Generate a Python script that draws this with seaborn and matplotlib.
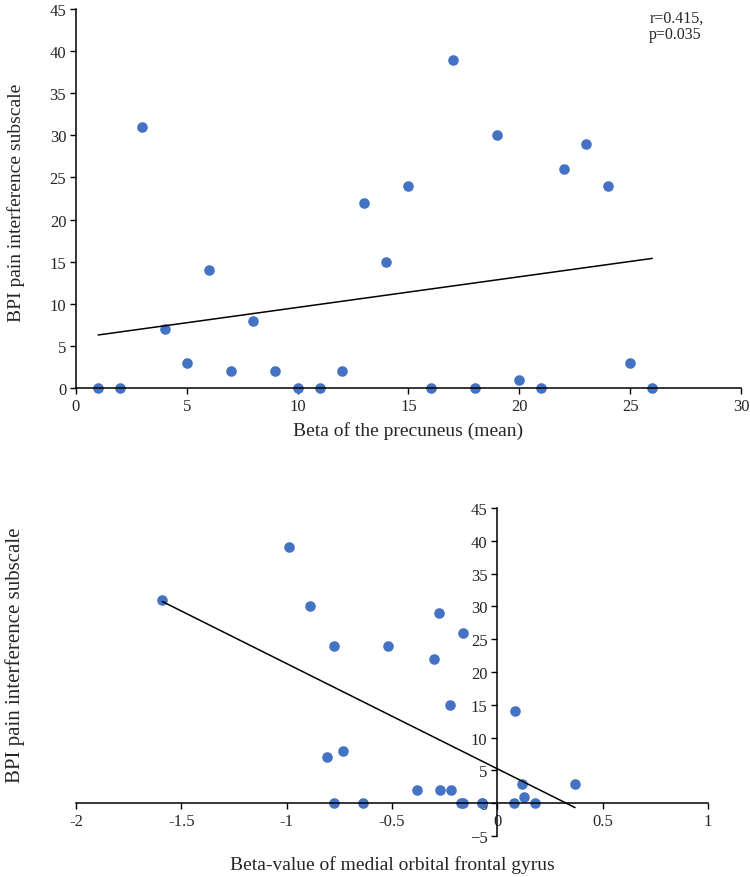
import numpy as np
import pandas as pd
import matplotlib
matplotlib.use('Agg')
import matplotlib.pyplot as plt
import seaborn as sns

# BPI pain interference scores (same subjects in both panels)
bpi = [0, 0, 31, 7, 3, 14, 2, 8, 2, 0, 0, 2, 22, 15, 24, 0, 39, 0, 30, 1, 0, 26, 29, 24, 3, 0]
precuneus = list(range(1, 27))

bpi_mofg = [31, 39, 30, 29, 24, 24, 22, 15, 26, 14, 7, 8, 2, 2, 2,
            0, 0, 0, 0, 0, 0, 0, 0, 3, 1, 3]
mofg = [-1.59, -0.99, -0.89, -0.277, -0.776, -0.518, -0.30, -0.227, -0.165, 0.086,
        -0.809, -0.733, -0.379, -0.271, -0.22,
        -0.776, -0.637, -0.172, -0.162, -0.073, -0.073, 0.081, 0.179, 0.116, 0.125, 0.369]

top_xticks = [0, 5, 10, 15, 20, 25, 30]
yticks = [0, 5, 10, 15, 20, 25, 30, 35, 40, 45]
bot_xticks = [-2, -1.5, -1, -0.5, 0, 0.5, 1]
bot_xlabels = ['-2', '-1.5', '-1', '-0.5', '0', '0.5', '1']
bot_yticks = [-5, 0, 5, 10, 15, 20, 25, 30, 35, 40, 45]

df1 = pd.DataFrame({'x': precuneus, 'y': bpi})
df2 = pd.DataFrame({'x': mofg, 'y': bpi_mofg})

sns.set_style('white')
plt.rcParams['font.family'] = ['Liberation Serif', 'DejaVu Serif']
plt.rcParams['xtick.direction'] = 'out'
plt.rcParams['ytick.direction'] = 'out'

blue = '#4472C4'
fig = plt.figure(figsize=(7.5, 8.78), dpi=100)

# ---- top panel
ax1 = fig.add_axes([0.1013, 0.5569, 0.8867, 0.4317])
sns.regplot(x='x', y='y', data=df1, ax=ax1, ci=None,
            scatter_kws={'s': 58, 'color': blue, 'alpha': 1, 'linewidths': 0},
            line_kws={'color': 'black', 'lw': 1.1})
ax1.set_xlim(0, 30)
ax1.set_ylim(0, 45)
ax1.set_xticks(top_xticks)
ax1.set_yticks(yticks)
for s in ['top', 'right']:
    ax1.spines[s].set_visible(False)
for s in ['left', 'bottom']:
    ax1.spines[s].set_color('black')
    ax1.spines[s].set_linewidth(1.1)
ax1.tick_params(axis='both', which='major', length=4, width=1, color='black',
                labelsize=12, pad=3, left=True, bottom=True)
ax1.set_xlabel('Beta of the precuneus (mean)', fontsize=14, labelpad=5)
ax1.set_ylabel('BPI pain interference subscale', fontsize=14)
ax1.yaxis.set_label_coords(-0.077, 0.49)
ax1.text(0.862, 0.998, 'r=0.415,\np=0.035', transform=ax1.transAxes,
         ha='left', va='top', fontsize=11.5, linespacing=1.0)
for c in ax1.collections:
    c.set_clip_on(False)

# ---- bottom panel (axes crossing at zero)
ax2 = fig.add_axes([0.1013, 0.0467, 0.8427, 0.3736])
sns.regplot(x='x', y='y', data=df2, ax=ax2, ci=None,
            scatter_kws={'s': 58, 'color': blue, 'alpha': 1, 'linewidths': 0},
            line_kws={'color': 'black', 'lw': 1.1})
ax2.set_xlim(-2, 1)
ax2.set_ylim(-5, 45)
ax2.set_xticks(bot_xticks)
ax2.set_xticklabels(bot_xlabels)
ax2.set_yticks(bot_yticks)
for s in ['top', 'right']:
    ax2.spines[s].set_visible(False)
ax2.spines['left'].set_position(('data', 0))
ax2.spines['bottom'].set_position(('data', 0))
for s in ['left', 'bottom']:
    ax2.spines[s].set_color('black')
    ax2.spines[s].set_linewidth(1.1)
ax2.tick_params(axis='both', which='major', length=4, width=1, color='black',
                labelsize=12, pad=3, left=True, bottom=True)
ax2.set_xlabel('Beta-value of medial orbital frontal gyrus', fontsize=14)
ax2.xaxis.set_label_coords(0.5, -0.058)
ax2.set_ylabel('BPI pain interference subscale', fontsize=15)
ax2.yaxis.set_label_coords(-0.081, 0.555)
for c in ax2.collections:
    c.set_clip_on(False)

fig.savefig('out.png', dpi=100)
